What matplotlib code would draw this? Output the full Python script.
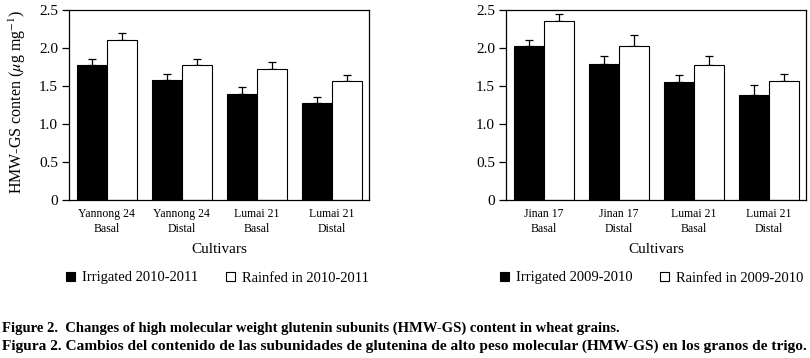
import matplotlib
matplotlib.use("Agg")
import matplotlib.pyplot as plt
import numpy as np
from matplotlib.patches import Patch

plt.rcParams['font.family'] = ['Liberation Serif', 'DejaVu Serif']
plt.rcParams['mathtext.fontset'] = 'stix'

# Left panel (2010-2011)
left_cats = ["Yannong 24\nBasal", "Yannong 24\nDistal", "Lumai 21\nBasal", "Lumai 21\nDistal"]
left_irrigated = [1.77, 1.58, 1.40, 1.27]
left_irrigated_err = [0.09, 0.08, 0.09, 0.09]
left_rainfed = [2.11, 1.77, 1.73, 1.57]
left_rainfed_err = [0.09, 0.09, 0.08, 0.07]
left_labels = ["Irrigated 2010-2011", "Rainfed in 2010-2011"]

# Right panel (2009-2010)
right_cats = ["Jinan 17\nBasal", "Jinan 17\nDistal", "Lumai 21\nBasal", "Lumai 21\nDistal"]
right_irrigated = [2.02, 1.79, 1.55, 1.38]
right_irrigated_err = [0.09, 0.11, 0.09, 0.13]
right_rainfed = [2.35, 2.02, 1.78, 1.57]
right_rainfed_err = [0.10, 0.15, 0.11, 0.09]
right_labels = ["Irrigated 2009-2010", "Rainfed in 2009-2010"]

yticks = [0, 0.5, 1.0, 1.5, 2.0, 2.5]
ytick_labels = ["0", "0.5", "1.0", "1.5", "2.0", "2.5"]

caption1 = "Figure 2.  Changes of high molecular weight glutenin subunits (HMW-GS) content in wheat grains."
caption2 = "Figura 2. Cambios del contenido de las subunidades de glutenina de alto peso molecular (HMW-GS) en los granos de trigo."

W, H = 810, 358
fig = plt.figure(figsize=(W / 100, H / 100), dpi=100)

def px_axes(x0, y0, x1, y1):
    return fig.add_axes([x0 / W, 1 - y1 / H, (x1 - x0) / W, (y1 - y0) / H])

def draw(ax, cats, irr, irr_err, rain, rain_err):
    x = np.arange(len(cats))
    w = 0.4
    ax.bar(x - w / 2, irr, w, color='black', edgecolor='black', linewidth=0.8, zorder=2)
    ax.bar(x + w / 2, rain, w, color='white', edgecolor='black', linewidth=0.8, zorder=2)
    ax.errorbar(x - w / 2, irr, yerr=[np.zeros(len(irr)), irr_err], fmt='none',
                ecolor='black', elinewidth=0.9, capsize=2.8, capthick=0.9, zorder=1)
    ax.errorbar(x + w / 2, rain, yerr=[np.zeros(len(rain)), rain_err], fmt='none',
                ecolor='black', elinewidth=0.9, capsize=2.8, capthick=0.9, zorder=1)
    ax.set_xlim(-0.5, len(cats) - 0.5)
    ax.set_ylim(0, 2.5)
    ax.set_yticks(yticks)
    ax.set_yticklabels(ytick_labels, fontsize=11)
    ax.set_xticks(x)
    ax.set_xticklabels(cats, fontsize=8.5, linespacing=1.3)
    ax.tick_params(axis='x', length=0, pad=6)
    ax.tick_params(axis='y', direction='out', length=5, width=0.9, pad=3)
    for s in ax.spines.values():
        s.set_linewidth(0.9)
    ax.set_xlabel("Cultivars", fontsize=11, labelpad=6)

ax1 = px_axes(69, 10, 369, 200)
draw(ax1, left_cats, left_irrigated, left_irrigated_err, left_rainfed, left_rainfed_err)
ax1.set_ylabel(r"HMW-GS conten ($\mu$g mg$^{-1}$)", fontsize=11.5)
ax1.yaxis.set_label_coords(-0.135, 0.515)

ax2 = px_axes(506, 10, 806, 200)
draw(ax2, right_cats, right_irrigated, right_irrigated_err, right_rainfed, right_rainfed_err)

def legend(labels, x_px):
    handles = [Patch(facecolor='black', edgecolor='black', linewidth=0.8),
               Patch(facecolor='white', edgecolor='black', linewidth=0.8)]
    fig.legend(handles, labels, loc='center left', bbox_to_anchor=(x_px / W, 1 - 278 / H),
               ncol=2, frameon=False, fontsize=10.5, handlelength=0.6, handleheight=0.6,
               handletextpad=0.5, columnspacing=1.9, borderaxespad=0, borderpad=0)

legend(left_labels, 66)
legend(right_labels, 500)

fig.text(0.002, 1 - 328 / H, caption1, fontsize=10.5, fontweight='bold', va='center', ha='left')
fig.text(0.002, 1 - 346 / H, caption2, fontsize=11.05, fontweight='bold', va='center', ha='left')

fig.savefig("out.png", dpi=100)
